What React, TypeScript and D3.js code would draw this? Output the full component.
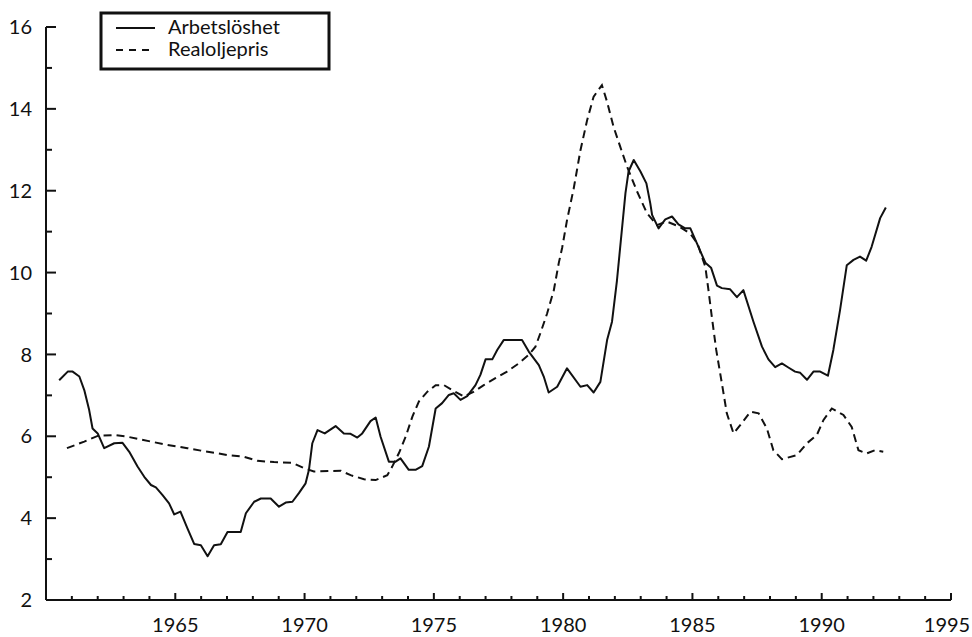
import React from "react";
import * as d3 from "d3";

const unemploymentYears = [1960.51,1960.84,1961.03,1961.29,1961.48,1961.67,1961.8,1962.0,1962.25,1962.64,1962.96,1963.22,1963.54,1963.8,1964.06,1964.25,1964.5,1964.76,1964.96,1965.2,1965.47,1965.73,1965.99,1966.25,1966.5,1966.76,1967.02,1967.53,1967.73,1968.05,1968.31,1968.69,1969.01,1969.27,1969.53,1969.78,1970.04,1970.17,1970.3,1970.5,1970.78,1971.2,1971.52,1971.78,1972.04,1972.23,1972.55,1972.75,1972.94,1973.26,1973.52,1973.71,1974.03,1974.29,1974.55,1974.81,1975.07,1975.32,1975.58,1975.77,1976.03,1976.29,1976.61,1976.8,1977.0,1977.26,1977.45,1977.7,1978.41,1978.67,1979.06,1979.25,1979.44,1979.77,1980.15,1980.67,1980.93,1981.18,1981.44,1981.7,1981.89,1982.08,1982.41,1982.53,1982.73,1982.99,1983.22,1983.37,1983.44,1983.69,1983.95,1984.21,1984.46,1984.72,1984.92,1985.17,1985.5,1985.72,1985.95,1986.14,1986.46,1986.72,1986.97,1987.36,1987.69,1987.94,1988.2,1988.46,1988.71,1988.97,1989.17,1989.43,1989.68,1989.94,1990.24,1990.45,1990.71,1990.97,1991.23,1991.48,1991.72,1991.93,1992.26,1992.48];
const unemploymentValues = [7.37,7.58,7.58,7.46,7.13,6.64,6.19,6.07,5.71,5.83,5.84,5.62,5.26,5.01,4.81,4.75,4.57,4.36,4.09,4.16,3.75,3.37,3.34,3.07,3.34,3.36,3.66,3.66,4.12,4.4,4.48,4.48,4.28,4.38,4.4,4.61,4.85,5.18,5.83,6.15,6.07,6.25,6.07,6.06,5.97,6.07,6.37,6.46,5.99,5.38,5.38,5.46,5.18,5.18,5.27,5.75,6.68,6.81,7.01,7.05,6.89,6.98,7.25,7.5,7.88,7.88,8.11,8.35,8.35,8.07,7.74,7.46,7.07,7.21,7.66,7.21,7.25,7.07,7.33,8.35,8.8,9.8,11.94,12.47,12.75,12.47,12.18,11.69,11.41,11.08,11.3,11.37,11.18,11.08,11.08,10.72,10.24,10.12,9.68,9.62,9.59,9.4,9.57,8.8,8.19,7.88,7.69,7.78,7.68,7.58,7.55,7.38,7.58,7.58,7.48,8.11,9.09,10.18,10.31,10.39,10.29,10.63,11.33,11.59];

const oilYears = [1960.81,1961.48,1962.0,1962.64,1963.15,1964.06,1964.7,1965.47,1965.99,1966.5,1967.02,1967.66,1968.18,1968.82,1969.53,1969.98,1970.36,1971.4,1971.78,1972.3,1972.75,1973.2,1973.39,1973.65,1973.91,1974.17,1974.42,1974.75,1975.07,1975.39,1975.71,1976.16,1976.55,1976.93,1977.38,1977.83,1978.28,1978.67,1978.93,1979.12,1979.38,1979.64,1979.83,1979.96,1980.15,1980.41,1980.67,1980.93,1981.18,1981.5,1981.7,1981.95,1982.21,1982.47,1982.86,1983.24,1983.63,1984.0,1984.5,1984.92,1985.2,1985.5,1985.62,1985.75,1985.92,1986.14,1986.33,1986.59,1986.91,1987.24,1987.56,1987.88,1988.13,1988.46,1989.04,1989.43,1989.81,1990.07,1990.39,1990.84,1991.16,1991.42,1991.74,1992.06,1992.38];
const oilValues = [5.71,5.87,6.01,6.03,5.99,5.87,5.79,5.71,5.65,5.6,5.54,5.5,5.4,5.37,5.35,5.22,5.14,5.16,5.05,4.95,4.93,5.05,5.26,5.59,5.99,6.48,6.85,7.09,7.25,7.25,7.13,6.97,7.09,7.25,7.42,7.58,7.78,7.99,8.19,8.52,9.0,9.57,10.23,10.6,11.28,12.06,12.99,13.73,14.3,14.58,14.17,13.56,13.07,12.59,11.98,11.45,11.16,11.25,11.12,10.95,10.7,10.14,9.57,8.92,8.11,7.29,6.56,6.07,6.32,6.6,6.56,6.19,5.66,5.44,5.54,5.83,6.03,6.4,6.68,6.52,6.23,5.66,5.58,5.66,5.62];

const yMajorTicks = [2, 4, 6, 8, 10, 12, 14, 16];
const yMinorTicks = [3, 5, 7, 9, 11, 13, 15];
const xMajorTicks = [1965, 1970, 1975, 1980, 1985, 1990, 1995];
const xMinorTicks = d3.range(1961, 1995).filter((y) => y % 5 !== 0);

const seriesLabels = ["Arbetslöshet", "Realoljepris"];

export default function App() {
  const W = 972, H = 637;
  const x = d3.scaleLinear().domain([1960, 1995]).range([46, 951]);
  const y = d3.scaleLinear().domain([2, 16]).range([600, 27]);
  const line = d3.line<[number, number]>().x((d) => x(d[0])).y((d) => y(d[1]));
  const unemp: [number, number][] = unemploymentYears.map((t, i) => [t, unemploymentValues[i]]);
  const oil: [number, number][] = oilYears.map((t, i) => [t, oilValues[i]]);
  const ink = "#111";
  const font = "Lato, 'Open Sans', sans-serif";
  return (
    <svg width={W} height={H} style={{ position: "absolute", left: 0, top: 0, background: "#fff" }} fontFamily={font}>
      <rect x={0} y={0} width={W} height={H} fill="#fff" />
      {/* axes */}
      <line x1={x(1960)} x2={x(1960)} y1={y(16)} y2={y(2)} stroke={ink} strokeWidth={2} />
      <line x1={x(1960)} x2={x(1995)} y1={y(2)} y2={y(2)} stroke={ink} strokeWidth={2} />
      {yMajorTicks.map((v) => (
        <g key={"ym" + v}>
          <line x1={x(1960)} x2={x(1960) + 10} y1={y(v)} y2={y(v)} stroke={ink} strokeWidth={2} />
          <text x={32} y={y(v)} dy="0.36em" textAnchor="end" fontSize={20} fill={ink}>{v}</text>
        </g>
      ))}
      {yMinorTicks.map((v) => (
        <line key={"yn" + v} x1={x(1960)} x2={x(1960) + 6} y1={y(v)} y2={y(v)} stroke={ink} strokeWidth={2} />
      ))}
      {xMajorTicks.map((t) => (
        <g key={"xm" + t}>
          <line x1={x(t)} x2={x(t)} y1={y(2)} y2={y(2) - 7} stroke={ink} strokeWidth={2} />
          <text x={t === 1995 ? x(t) - 4 : x(t)} y={632} textAnchor="middle" fontSize={20} fill={ink}>{t}</text>
        </g>
      ))}
      {xMinorTicks.map((t) => (
        <line key={"xn" + t} x1={x(t)} x2={x(t)} y1={y(2)} y2={y(2) - 4} stroke={ink} strokeWidth={2} />
      ))}
      {/* series */}
      <path d={line(oil) || ""} fill="none" stroke={ink} strokeWidth={2} strokeDasharray="8,5" />
      <path d={line(unemp) || ""} fill="none" stroke={ink} strokeWidth={2} strokeLinejoin="round" />
      {/* legend */}
      <rect x={101} y={13} width={228} height={56} fill="#fff" stroke={ink} strokeWidth={3} />
      <line x1={116} x2={155} y1={28} y2={28} stroke={ink} strokeWidth={2} />
      <line x1={116} x2={155} y1={50} y2={50} stroke={ink} strokeWidth={2} strokeDasharray="7,6" />
      <text x={168} y={34} fontSize={20} fill={ink}>{seriesLabels[0]}</text>
      <text x={168} y={56} fontSize={20} fill={ink}>{seriesLabels[1]}</text>
    </svg>
  );
}
